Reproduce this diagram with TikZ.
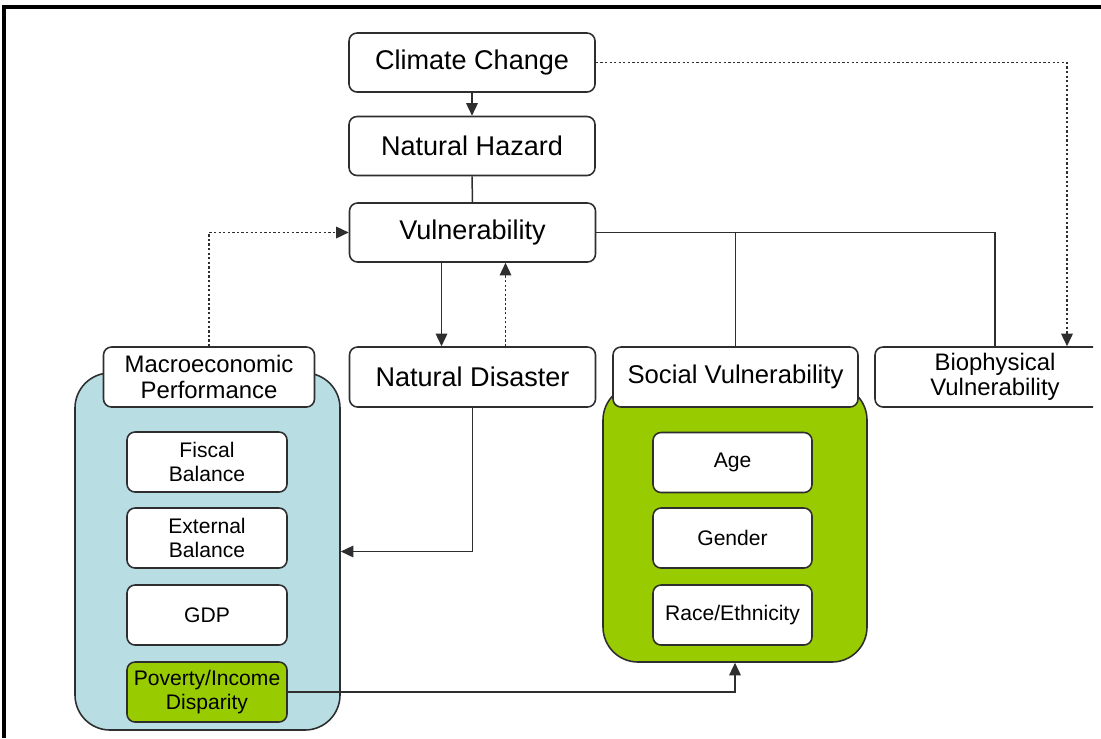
\documentclass[tikz,border=0pt]{standalone}
\usepackage{fontspec}
\setmainfont{Liberation Sans}
\usetikzlibrary{arrows.meta}
\newlength\pxu \setlength\pxu{0.02cm}
\definecolor{macblue}{HTML}{B8DEE4}
\definecolor{svgreen}{HTML}{99CC00}
\definecolor{edgegray}{HTML}{2E2E2E}
\begin{document}
\begin{tikzpicture}[x=0.02cm,y=-0.02cm,
  box/.style={draw=edgegray, fill=white, rounded corners=8\pxu, line width=0.9pt, align=center, inner sep=0pt},
  topbox/.style={box, minimum width=246\pxu, minimum height=59\pxu, font=\fontsize{15.4}{18}\selectfont},
  headbox/.style={box, minimum height=60\pxu, font=\fontsize{13.6}{14.4}\selectfont},
  innerbox/.style={box, minimum width=160\pxu, minimum height=60\pxu, font=\fontsize{12}{13.4}\selectfont},
  container/.style={draw=edgegray, line width=0.9pt, rounded corners=35\pxu, inner sep=0pt},
  conn/.style={draw=edgegray, line width=0.85pt},
  arr/.style={conn, -{Triangle[length=0.25cm,width=0.23cm]}},
  dotarr/.style={arr, dash pattern=on 1.3pt off 1.3pt}
]
\useasboundingbox (0,0) rectangle (1101,738);
% frame
\draw[line width=1.8pt] (4,738) -- (4,7) -- (1101,7);

% containers
\node[container, fill=macblue, minimum width=265\pxu, minimum height=357\pxu] (macbox) at (207.5,551.5) {};
\node[container, fill=svgreen, minimum width=264\pxu, minimum height=277\pxu] (svbox) at (735,523.5) {};

% top column
\node[topbox] (cc) at (472,62.5) {Climate Change};
\node[topbox] (nh) at (472,146) {Natural Hazard};
\node[topbox] (vul) at (472.5,232.5) {Vulnerability};
\node[topbox, minimum height=60\pxu] (nd) at (472.5,377) {Natural Disaster};

% headers
\node[headbox, minimum width=211\pxu] (mac) at (209,377) {Macroeconomic\\Performance};
\node[headbox, minimum width=245\pxu, font=\fontsize{14.6}{16}\selectfont] (sv) at (735.5,377) {Social Vulnerability};
\begin{scope}
\clip (0,0) rectangle (1093,738);
\node[headbox, minimum width=240\pxu] (bio) at (995,377) {Biophysical\\Vulnerability};
\end{scope}

% inner boxes
\node[innerbox] (fis) at (207,462) {Fiscal\\Balance};
\node[innerbox] (ext) at (207,538) {External\\Balance};
\node[innerbox] (gdp) at (207,615) {GDP};
\node[innerbox, fill=svgreen] (pov) at (207,692) {Poverty/Income\\Disparity};
\node[innerbox, minimum width=159\pxu] (age) at (732.5,462.5) {Age};
\node[innerbox, minimum width=159\pxu] (gen) at (732.5,538) {Gender};
\node[innerbox, minimum width=159\pxu] (race) at (732.5,615) {Race/Ethnicity};

% connectors
\draw[arr] (cc.south) -- (nh.north);
\draw[conn] (nh.south) -- (vul.north);
\draw[dotarr] (mac.north) |- (vul.west);
\draw[conn] (vul.east) -| (bio.north);
\draw[conn] (sv.north) -- (sv.north |- vul.east);
\coordinate (bioin) at ([xshift=72\pxu]bio.north);
\draw[dotarr] (cc.east) -| (bioin);
\draw[arr] ([xshift=-31\pxu]vul.south) -- ([xshift=-31\pxu]vul.south |- nd.north);
\draw[dotarr] ([xshift=33\pxu]nd.north) -- ([xshift=33\pxu]nd.north |- vul.south);
\draw[arr] (nd.south) |- (macbox.east);
\draw[arr] (pov.east) -| (svbox.south);
\end{tikzpicture}
\end{document}
